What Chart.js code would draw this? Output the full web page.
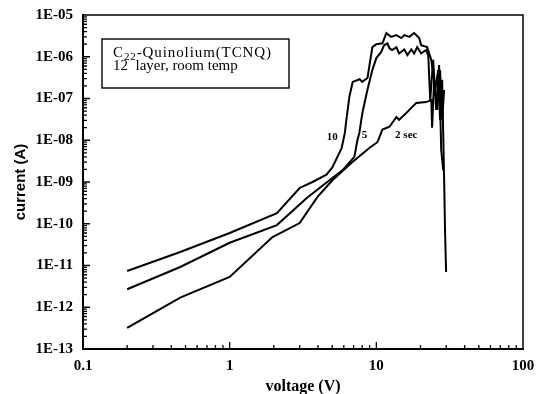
<!DOCTYPE html>
<html>
<head>
<meta charset="utf-8">
<script src="https://cdn.jsdelivr.net/npm/chart.js@4"></script>
<style>
  body { margin: 0; background: #fff; }
  #wrap { width: 537px; height: 394px; }
</style>
</head>
<body>
<div id="wrap"><canvas id="ivChart" width="537" height="394"></canvas></div>
<script>
const xTicks = [0.1, 1, 10, 100];
const yTicks = [1e-13, 1e-12, 1e-11, 1e-10, 1e-9, 1e-8, 1e-7, 1e-6, 1e-5];

// 10 sec sweep
const voltage10 = [0.2, 0.46, 1.0, 2.1, 3.0, 3.67, 4.57, 5.0, 5.8, 6.1, 6.25, 6.55, 6.9, 7.7, 8.0, 8.7, 9.4, 10.0, 11.0, 11.7, 12.6, 13.7, 14.8, 15.5, 16.8, 18.1, 19.6, 20.2, 22.2, 23.7, 25.2, 26.4, 27.2, 28.1, 29.0, 29.4, 29.9];
const current10 = [7.4e-12, 2.1e-11, 6.0e-11, 1.8e-10, 7.2e-10, 1.0e-9, 1.5e-9, 2.2e-9, 6.5e-9, 1.5e-8, 3.1e-8, 1.1e-7, 2.5e-7, 2.9e-7, 2.5e-7, 3.1e-7, 1.7e-6, 2.0e-6, 2.1e-6, 3.7e-6, 3.0e-6, 3.3e-6, 2.8e-6, 3.3e-6, 3.0e-6, 3.7e-6, 2.8e-6, 1.9e-6, 1.7e-6, 8.4e-7, 1.6e-7, 4.8e-7, 3.1e-8, 2.8e-7, 1.1e-9, 7.1e-11, 7.0e-12];

// 5 sec sweep
const voltage5 = [0.2, 0.46, 1.0, 2.1, 3.34, 4.79, 5.87, 7.08, 7.43, 7.66, 8.03, 8.69, 9.39, 10.0, 10.8, 11.3, 11.9, 12.3, 12.8, 13.7, 14.3, 15.5, 16.3, 17.3, 18.1, 19.0, 20.2, 21.9, 22.6, 23.3, 24.4, 25.6, 26.8, 27.7, 28.6];
const current5 = [2.7e-12, 9.2e-12, 3.5e-11, 9.3e-11, 4.1e-10, 1.1e-9, 1.9e-9, 4.0e-9, 1.0e-8, 1.5e-8, 4.5e-8, 1.6e-7, 4.8e-7, 9.3e-7, 1.3e-6, 1.9e-6, 2.1e-6, 1.6e-6, 1.45e-6, 1.7e-6, 1.2e-6, 1.5e-6, 1.1e-6, 1.5e-6, 1.2e-6, 1.7e-6, 1.2e-6, 1.45e-6, 1.04e-6, 9.2e-8, 8.4e-7, 5.3e-8, 6.3e-7, 5.8e-9, 1.9e-9];

// 2 sec sweep
const voltage2 = [0.2, 0.46, 1.0, 1.96, 3.0, 3.97, 5.02, 6.87, 8.96, 10.2, 11.0, 12.3, 13.7, 14.3, 16.0, 17.6, 18.7, 21.9, 23.7, 24.0, 24.8, 26.0, 27.2, 28.1, 29.0];
const current2 = [3.2e-13, 1.7e-12, 5.3e-12, 4.8e-11, 1.04e-10, 4.4e-10, 1.1e-9, 3.0e-9, 6.5e-9, 9.1e-9, 1.8e-8, 2.1e-8, 3.6e-8, 3.1e-8, 4.5e-8, 6.3e-8, 7.8e-8, 8.2e-8, 9.2e-8, 2.0e-8, 2.8e-7, 5.3e-8, 4.8e-7, 3.1e-8, 1.6e-7];

const curveLabels = ['10', '5', '2 sec'];
const labelVoltage = [5.0, 8.3, 16.0];
const labelCurrent = [1.2e-8, 1.3e-8, 1.3e-8];

function toPoints(xs, ys) {
  return xs.map((x, i) => ({ x, y: ys[i] }));
}

function expLabel(v) {
  const e = Math.round(Math.log10(v));
  return '1E' + (e < 0 ? '-' : '+') + String(Math.abs(e)).padStart(2, '0');
}

const serif = 'Liberation Serif, DejaVu Serif, serif';

const decorPlugin = {
  id: 'decor',
  afterDraw(chart) {
    const { ctx, chartArea: a, scales: { x, y } } = chart;
    ctx.save();
    ctx.strokeStyle = '#000';
    ctx.lineWidth = 1.5;
    ctx.strokeRect(a.left, a.top, a.right - a.left, a.bottom - a.top);

    // inward ticks
    ctx.lineWidth = 1.3;
    ctx.beginPath();
    for (let d = -1; d < 2; d++) {
      for (let k = 1; k < 10; k++) {
        const px = x.getPixelForValue(k * Math.pow(10, d));
        const len = k === 1 ? 7 : 4;
        ctx.moveTo(px, a.bottom);
        ctx.lineTo(px, a.bottom - len);
      }
    }
    for (let d = -13; d < -5; d++) {
      for (let k = 1; k < 10; k++) {
        const py = y.getPixelForValue(k * Math.pow(10, d));
        const len = k === 1 ? 7 : 4;
        ctx.moveTo(a.left, py);
        ctx.lineTo(a.left + len, py);
      }
    }
    ctx.stroke();

    // note box
    const bx = a.left + 19, by = a.top + 24;
    ctx.lineWidth = 1.4;
    ctx.strokeRect(bx, by, 187, 49);
    ctx.fillStyle = '#000';
    ctx.textBaseline = 'alphabetic';
    ctx.textAlign = 'left';
    ctx.letterSpacing = '0.9px';
    ctx.font = '15px ' + serif;
    let tx = bx + 11;
    ctx.fillText('C', tx, by + 18);
    tx += ctx.measureText('C').width;
    ctx.font = '11px ' + serif;
    ctx.fillText('22', tx, by + 21);
    tx += ctx.measureText('22').width;
    ctx.font = '15px ' + serif;
    ctx.fillText('-Quinolium(TCNQ)', tx, by + 18);
    ctx.letterSpacing = '0px';
    ctx.fillText('12  layer, room temp', bx + 11, by + 31);

    // curve labels
    ctx.font = 'bold 11px ' + serif;
    ctx.textAlign = 'center';
    ctx.textBaseline = 'middle';
    curveLabels.forEach((t, i) => {
      ctx.fillText(t, x.getPixelForValue(labelVoltage[i]), y.getPixelForValue(labelCurrent[i]));
    });
    ctx.restore();
  }
};

const lineStyle = { borderColor: '#000', borderWidth: 2, pointRadius: 0, showLine: true, tension: 0, fill: false };

new Chart(document.getElementById('ivChart'), {
  type: 'scatter',
  data: {
    datasets: [
      { label: '10', data: toPoints(voltage10, current10), ...lineStyle },
      { label: '5', data: toPoints(voltage5, current5), ...lineStyle },
      { label: '2 sec', data: toPoints(voltage2, current2), ...lineStyle }
    ]
  },
  options: {
    responsive: false,
    animation: false,
    layout: { padding: { top: 15, right: 14, left: 0, bottom: 0 } },
    plugins: { legend: { display: false }, tooltip: { enabled: false } },
    scales: {
      x: {
        type: 'logarithmic',
        min: 0.1,
        max: 100,
        afterBuildTicks: s => { s.ticks = xTicks.map(v => ({ value: v })); },
        afterFit: s => { s.height = 45; },
        ticks: {
          callback: v => String(v),
          color: '#000',
          font: { family: serif, size: 15, weight: 'bold' },
          padding: 0,
          maxRotation: 0,
          autoSkip: false
        },
        grid: { display: false },
        border: { color: '#000', width: 2 },
        title: {
          display: true,
          text: 'voltage (V)',
          color: '#000',
          font: { family: serif, size: 16, weight: 'bold' },
          padding: { top: 0, bottom: -2 }
        }
      },
      y: {
        type: 'logarithmic',
        min: 1e-13,
        max: 1e-5,
        afterBuildTicks: s => { s.ticks = yTicks.map(v => ({ value: v })); },
        afterFit: s => { s.width = 83; },
        ticks: {
          callback: v => expLabel(v),
          color: '#000',
          font: { family: serif, size: 15, weight: 'bold' },
          padding: 2,
          autoSkip: false
        },
        grid: { display: false },
        border: { color: '#000', width: 2 },
        title: {
          display: true,
          text: 'current (A)',
          color: '#000',
          font: { family: 'Liberation Sans, Arial, sans-serif', size: 15, weight: 'bold' },
          padding: { top: 12, bottom: 0 }
        }
      }
    }
  },
  plugins: [decorPlugin]
});
</script>
</body>
</html>
